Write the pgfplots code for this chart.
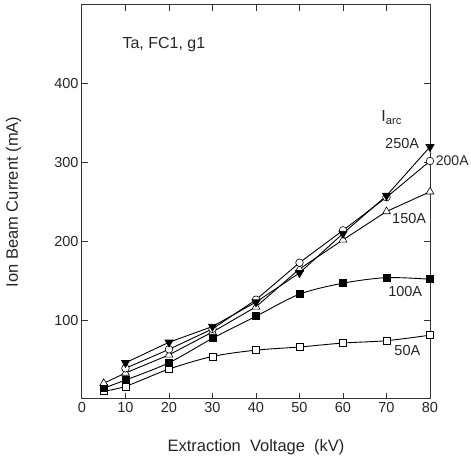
\documentclass[border=0pt]{standalone}
\usepackage{pgfplots}
\pgfplotsset{compat=1.18}
\usepackage{fontspec}
\setmainfont{Liberation Sans}
\begin{document}
\begin{tikzpicture}
\begin{axis}[
  at={(0pt,0pt)}, anchor=origin,
  scale only axis, width=348pt, height=394pt,
  xmin=0, xmax=80, ymin=0, ymax=500,
  xtick={0,10,...,80}, ytick={100,200,300,400},
  tick align=inside, major tick length=6pt,
  xtick pos=both, ytick pos=both,
  xticklabel pos=lower, yticklabel pos=left,
  /pgf/number format/assume math mode=true,
  ticklabel style={font=\fontsize{14.5}{16}\selectfont, text=black!85},
  xlabel={Extraction\ \ Voltage\ \ (kV)},
  ylabel={Ion Beam Current (mA)},
  label style={font=\fontsize{16.5}{19}\selectfont, text=black!85},
  xlabel style={yshift=-20pt},
  ylabel style={yshift=26pt},
  axis line style={line width=1pt, black!80},
  every tick/.style={line width=1pt, black!80},
  clip=false,
]
% 50A
\addplot[black, line width=0.9pt, smooth, mark=square*, mark size=3.5pt, mark options={fill=white, line width=0.6pt}]
 coordinates {(5,10) (10,16) (20,38) (30,54) (40,62) (50,66) (60,71) (70,74) (80,81)};
% 100A
\addplot[black, line width=0.9pt, smooth, mark=square*, mark size=3.5pt, mark options={fill=black}]
 coordinates {(5,14) (10,24) (20,46) (30,77) (40,105) (50,133) (60,147) (70,154) (80,152)};
% 150A
\addplot[black, line width=0.9pt, mark=triangle*, mark size=4.5pt, mark options={fill=white, line width=0.6pt}]
 coordinates {(5,20) (10,33) (20,56) (30,85) (40,117) (50,165) (60,202) (70,238) (80,263)};
% 200A
\addplot[black, line width=0.9pt, mark=*, mark size=3.8pt, mark options={fill=white, line width=0.6pt}]
 coordinates {(10,39) (20,63) (30,89) (40,126) (50,173) (60,214) (70,256) (80,302)};
% 250A
\addplot[black, line width=0.9pt, mark=triangle*, mark size=4.5pt, mark options={fill=black, rotate=180}]
 coordinates {(10,46) (20,72) (30,92) (40,123) (50,160) (60,210) (70,258) (80,320)};
\node[anchor=west, font=\fontsize{16}{18}\selectfont, text=black!85] at (axis cs:8.5,450) {Ta, FC1, g1};
\node[font=\fontsize{16}{18}\selectfont, text=black!85] at (axis cs:71.2,357) {I\textsubscript{arc}};
\node[font=\fontsize{14.5}{16}\selectfont, text=black!85] at (axis cs:73.6,324) {250A};
\node[anchor=west, inner sep=0.5pt, font=\fontsize{14}{16}\selectfont, text=black!85] at (axis cs:81.2,302) {200A};
\node[font=\fontsize{14.5}{16}\selectfont, text=black!85] at (axis cs:75.2,229) {150A};
\node[font=\fontsize{14.5}{16}\selectfont, text=black!85] at (axis cs:74.3,137) {100A};
\node[font=\fontsize{14.5}{16}\selectfont, text=black!85] at (axis cs:74.8,62) {50A};
\end{axis}
\pgfresetboundingbox
\path (-82pt,-58pt) rectangle (389pt,399pt);
\end{tikzpicture}
\end{document}
